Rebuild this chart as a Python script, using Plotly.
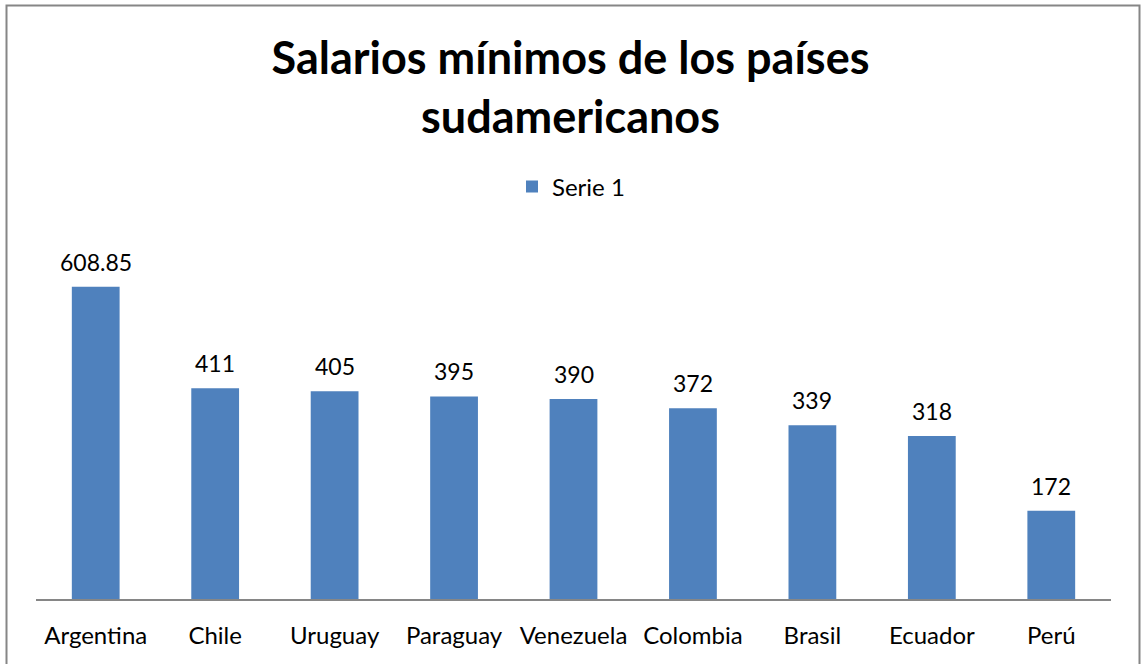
import plotly.graph_objects as go

categories = ["Argentina", "Chile", "Uruguay", "Paraguay", "Venezuela", "Colombia", "Brasil", "Ecuador", "Perú"]
values = [608.85, 411, 405, 395, 390, 372, 339, 318, 172]
labels = ["608.85", "411", "405", "395", "390", "372", "339", "318", "172"]

W, H = 1141, 664
L, R, T, B = 36, 30, 240, 65
pw, ph = W - L - R, H - T - B
FONT = "Lato, Open Sans, sans-serif"

def px_x(x):
    return (x - L) / pw

def px_y(y):
    return (H - B - y) / ph

fig = go.Figure()
fig.add_trace(go.Bar(
    x=categories, y=values, name="Serie 1",
    marker=dict(color="#4F81BD", line=dict(width=0)),
    hoverinfo="skip", showlegend=True,
))

for c, v, lab in zip(categories, values, labels):
    fig.add_annotation(
        x=c, y=v, xref="x", yref="y", text=lab, showarrow=False,
        yanchor="middle", yshift=25,
        font=dict(family=FONT, size=23, color="#000000"),
    )

fig.update_layout(
    width=W, height=H,
    margin=dict(l=L, r=R, t=T, b=B, autoexpand=False),
    paper_bgcolor="white", plot_bgcolor="white",
    bargap=0.6,
    font=dict(family=FONT, color="#000000"),
    title=dict(
        text="<b>Salarios mínimos de los países<br>sudamericanos</b>",
        x=0.5, xref="container", xanchor="center",
        y=1 - 74 / H, yref="container", yanchor="middle",
        font=dict(family=FONT, size=45, color="#000000"),
    ),
    showlegend=True,
    legend=dict(
        orientation="h", x=px_x(571), xanchor="center", y=px_y(187), yanchor="middle",
        xref="paper", yref="paper",
        font=dict(family=FONT, size=24, color="#000000"), bgcolor="rgba(0,0,0,0)",
    ),
    xaxis=dict(
        showline=True, linecolor="#868686", linewidth=1.5,
        ticks="", showgrid=False, zeroline=False,
        tickfont=dict(family=FONT, size=24, color="#000000"), ticklabelstandoff=14,
    ),
    yaxis=dict(
        range=[0, 700], visible=False, showgrid=False, zeroline=False,
    ),
    shapes=[dict(
        type="rect", xref="paper", yref="paper",
        x0=px_x(6.5), x1=px_x(1139.5), y0=px_y(680), y1=px_y(5.5),
        line=dict(color="#868686", width=2), fillcolor="rgba(0,0,0,0)", layer="above",
    )],
)

fig.write_html("out.html", config={"displayModeBar": False},
               post_script="document.body.style.margin='0';")
